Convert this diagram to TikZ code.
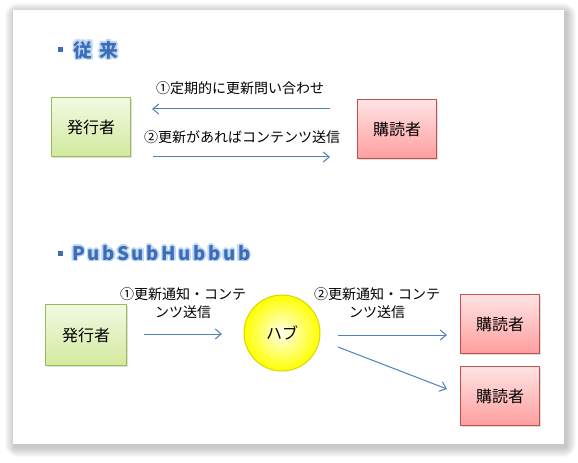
\documentclass[tikz,border=0pt]{standalone}
\usepackage{fontspec}
\setmainfont{Noto Sans CJK JP}
\newfontfamily\headfont[LetterSpace=14]{Noto Sans CJK JP}
\usetikzlibrary{arrows.meta,shadows}
\definecolor{flowblue}{HTML}{4F81BD}
\definecolor{headblue}{HTML}{3D6DB6}
\definecolor{glowblue}{HTML}{BCD7F5}
\definecolor{pubtop}{HTML}{F2F9E2}
\definecolor{pubbottom}{HTML}{D2EA9E}
\definecolor{publine}{HTML}{9BBB59}
\definecolor{subtop}{HTML}{FFE4E4}
\definecolor{subbottom}{HTML}{FF9E9E}
\definecolor{subline}{HTML}{C0504D}
\definecolor{hubline}{HTML}{D8D800}

\begin{document}
\begin{tikzpicture}[x=0.75pt,y=-0.75pt,font=\fontsize{10.5}{14}\selectfont,
  pubbox/.style={draw=publine,line width=0.75pt,top color=pubtop,bottom color=pubbottom,
    minimum width=59.25pt,minimum height=44.25pt,font=\fontsize{12}{14}\selectfont,
    drop shadow={shadow xshift=1.2pt,shadow yshift=-1.2pt,opacity=0.25}},
  subbox/.style={pubbox,draw=subline,top color=subtop,bottom color=subbottom},
  flow/.style={draw=flowblue,line width=0.75pt,-{Straight Barb[length=4.5pt,width=7.5pt]}},
  head/.style={font=\headfont\bfseries\fontsize{14}{16}\selectfont,text=headblue,inner sep=0pt},
  glow/.style={head,text=glowblue}]
\useasboundingbox (0,0) rectangle (578,463);
\foreach \i in {1,...,10}
  \fill[black,opacity=0.025,rounded corners=\i] (15-\i,13-\i) rectangle (566+\i,447+\i);
\fill[white] (13,10) rectangle (564,444);
\fill[headblue] (58,47) rectangle (63,52);
\foreach \dx/\dy in {-1.2/0,1.2/0,0/-1.2,0/1.2,-0.9/-0.9,0.9/0.9,-0.9/0.9,0.9/-0.9}
  \node[glow,xshift=\dx pt,yshift=\dy pt] at (96,50) {従 来};
\node[head] (oldhead) at (96,50) {従 来};
\fill[headblue] (58,251) rectangle (63,256);
\foreach \dx/\dy in {-1.2/0,1.2/0,0/-1.2,0/1.2,-0.9/-0.9,0.9/0.9,-0.9/0.9,0.9/-0.9}
  \node[glow,anchor=west,xshift=\dx pt,yshift=\dy pt] at (72,253) {PubSubHubbub};
\node[head,anchor=west] (hubhead) at (72,253) {PubSubHubbub};
\node[pubbox] (pub) at (91,127) {発行者};
\node[subbox] (sub) at (397,129) {購読者};
\coordinate (askstart) at (330,109);
\coordinate (askend) at (152,109);
\coordinate (sendstart) at (153,157);
\coordinate (sendend) at (330,157);
\draw[flow] (askstart) -- (askend);
\draw[flow] (sendstart) -- (sendend);
\node (asklabel) at (240,88) {①定期的に更新問い合わせ};
\node (sendlabel) at (242,137) {②更新があればコンテンツ送信};
\node[pubbox,minimum width=60.75pt,minimum height=45.75pt] (pubb) at (86,335) {発行者};
\node[circle,draw=hubline,line width=0.75pt,inner color=yellow!8,outer color=yellow,
  minimum size=57pt,font=\fontsize{12}{14}\selectfont] (hub) at (282,333) {ハブ};
\node[subbox] (suba) at (500,324) {購読者};
\node[subbox] (subb) at (500,396) {購読者};
\coordinate (pushstart) at (144,334);
\coordinate (pushend) at (222,334);
\coordinate (fanstart) at (338,335);
\coordinate (fanend) at (447,335);
\coordinate (fanstartb) at (338,347);
\coordinate (fanendb) at (447,389);
\draw[flow] (pushstart) -- (pushend);
\draw[flow] (fanstart) -- (fanend);
\draw[flow] (fanstartb) -- (fanendb);
\node[align=center] (pushlabel) at (183,303) {①更新通知・コンテ\\ンツ送信};
\node[align=center] (fanlabel) at (377,303) {②更新通知・コンテ\\ンツ送信};
\end{tikzpicture}
\end{document}
